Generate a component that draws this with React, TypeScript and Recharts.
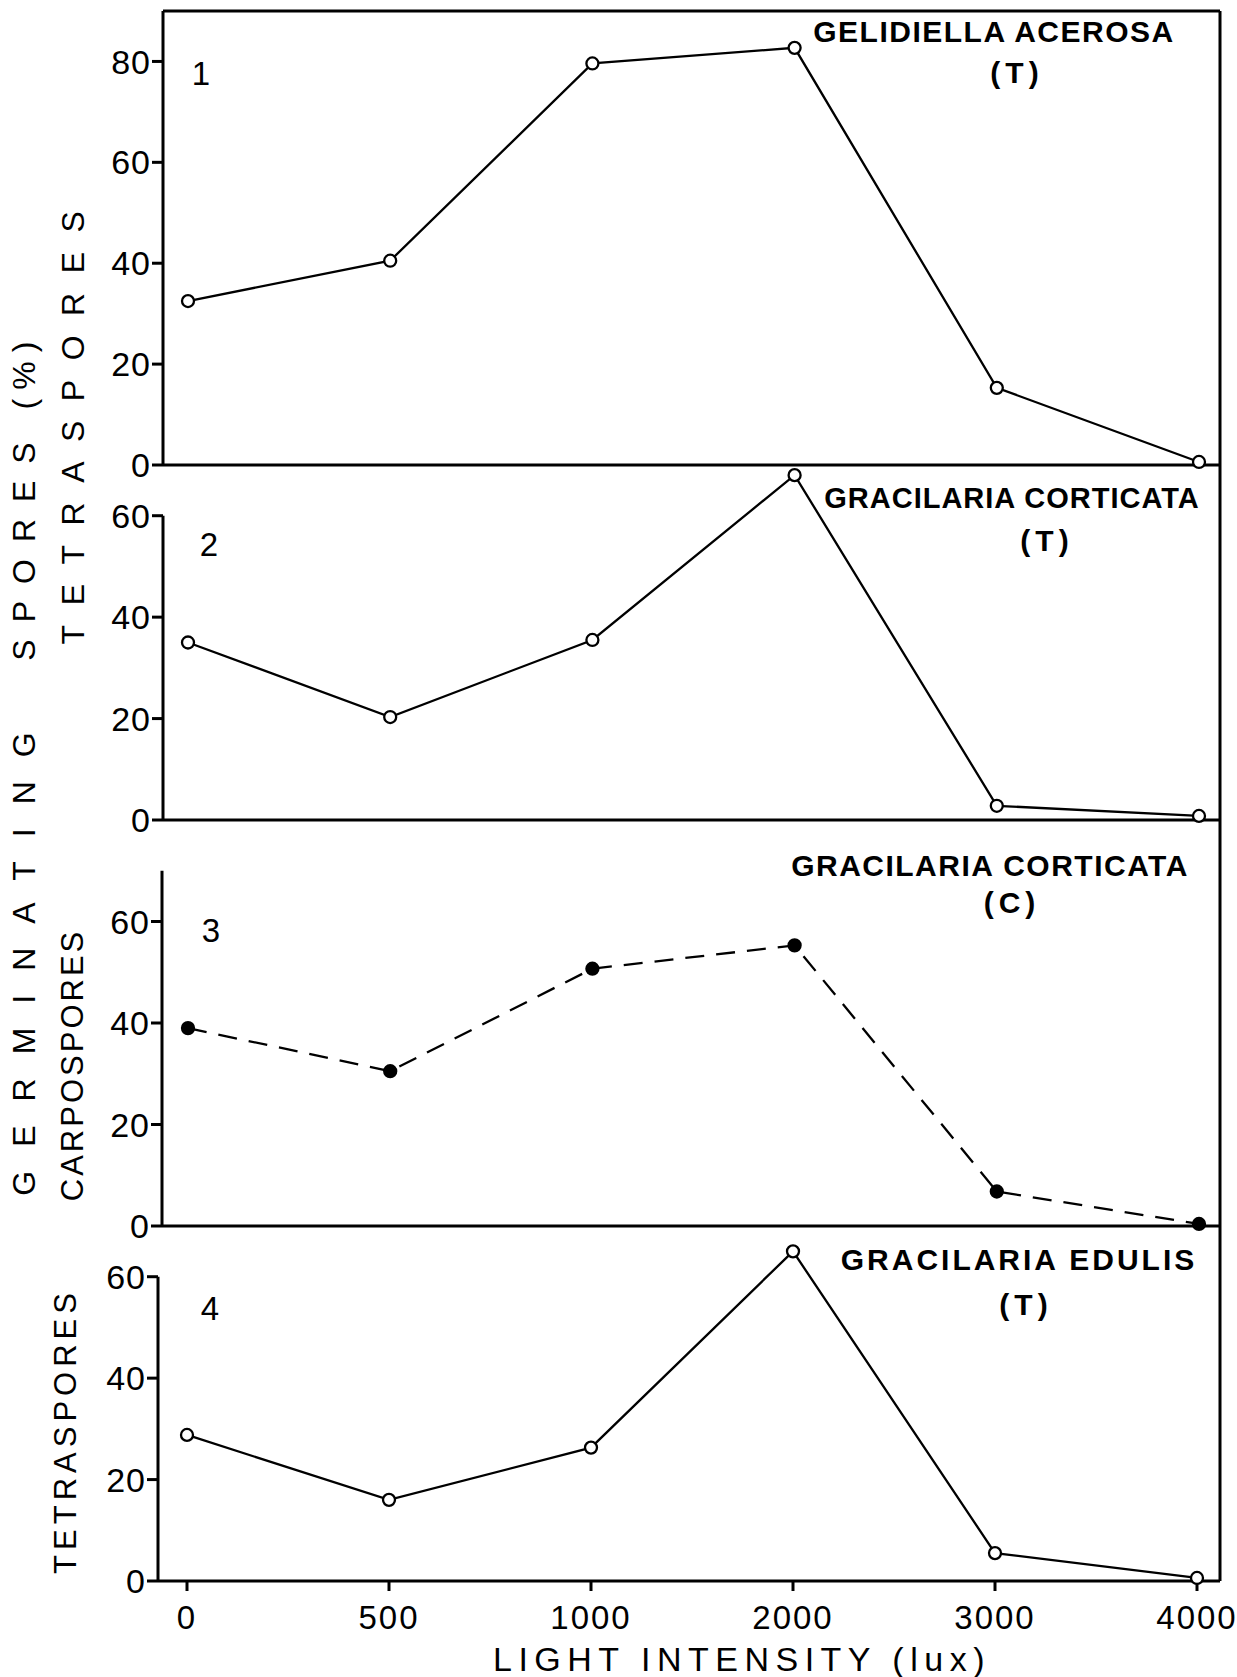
import React from 'react';
import { LineChart, Line, XAxis, YAxis } from 'recharts';

// ---------- data ----------
const lightIntensity = ['0', '500', '1000', '2000', '3000', '4000'];
const gelidiellaTetra = [32.5, 40.5, 79.6, 82.7, 15.3, 0.6];
const corticataTetra = [35, 20.3, 35.5, 68, 2.8, 0.8];
const corticataCarpo = [39, 30.5, 50.7, 55.3, 6.8, 0.4];
const edulisTetra = [28.8, 16, 26.3, 65, 5.5, 0.6];
const yTicksTall = [0, 20, 40, 60, 80];
const yTicksShort = [0, 20, 40, 60];

const PAGE_W = 1237;
const PAGE_H = 1677;
const RIGHT_EDGE = 1220;
const Y_AXIS_W = 70;
const FONT = '"Liberation Sans", Arial, sans-serif';

const panels = [
  { id: 'p1', values: gelidiellaTetra, ticks: yTicksTall, plotTop: 11, plotBottom: 465, yMax: 90, axisTop: 90, axisX: 163, padL: 25, padR: 21, dashed: false, xLabels: false, topBorder: true },
  { id: 'p2', values: corticataTetra, ticks: yTicksShort, plotTop: 465, plotBottom: 820, yMax: 70, axisTop: 60, axisX: 163, padL: 25, padR: 21, dashed: false, xLabels: false, topBorder: false },
  { id: 'p3', values: corticataCarpo, ticks: yTicksShort, plotTop: 820, plotBottom: 1226, yMax: 80, axisTop: 70, axisX: 162, padL: 26, padR: 21, dashed: true, xLabels: false, topBorder: false },
  { id: 'p4', values: edulisTetra, ticks: yTicksShort, plotTop: 1226, plotBottom: 1581, yMax: 70, axisTop: 60, axisX: 158, padL: 29, padR: 23, dashed: false, xLabels: true, topBorder: false },
];

const axisStroke = { stroke: '#000', strokeWidth: 3 };

function Panel({ p }: { p: typeof panels[number] }) {
  const data = lightIntensity.map((c, i) => ({ light: c, value: p.values[i] }));
  const xh = p.xLabels ? 60 : 20;
  const topH = p.topBorder ? 1 : 0;
  const plotH = p.plotBottom - p.plotTop;
  const gap = (plotH * (p.yMax - p.axisTop)) / p.yMax;
  const dash = gap > 0 ? `0 ${gap} ${plotH - gap} 3000` : undefined;
  return (
    <div style={{ position: 'absolute', left: 0, top: 0 }}>
      <LineChart
        width={PAGE_W}
        height={PAGE_H}
        data={data}
        margin={{ top: p.plotTop - topH, right: PAGE_W - RIGHT_EDGE - 1, bottom: PAGE_H - p.plotBottom - xh, left: p.axisX - Y_AXIS_W }}
      >
        <XAxis
          dataKey="light"
          type="category"
          scale="point"
          padding={{ left: p.padL, right: p.padR }}
          height={xh}
          interval={0}
          tickSize={10}
          tickMargin={15}
          axisLine={axisStroke}
          tickLine={axisStroke}
          tick={p.xLabels ? { fill: '#000', fontSize: 33, letterSpacing: 2 } : false}
        />
        {p.topBorder && (
          <XAxis
            xAxisId="top"
            orientation="top"
            dataKey="light"
            type="category"
            scale="point"
            padding={{ left: p.padL, right: p.padR }}
            height={1}
            tick={false}
            tickLine={false}
            axisLine={axisStroke}
          />
        )}
        <YAxis
          yAxisId="left"
          type="number"
          domain={[0, p.yMax]}
          ticks={p.ticks}
          interval={0}
          width={Y_AXIS_W}
          tickSize={11}
          tickMargin={1}
          axisLine={{ ...axisStroke, strokeDasharray: dash }}
          tickLine={axisStroke}
          tick={{ fill: '#000', fontSize: 34, letterSpacing: 1 }}
        />
        <YAxis
          yAxisId="right"
          orientation="right"
          type="number"
          domain={[0, p.yMax]}
          ticks={p.ticks}
          width={1}
          tick={false}
          tickLine={false}
          axisLine={axisStroke}
        />
        <Line
          yAxisId="left"
          type="linear"
          dataKey="value"
          stroke="#000"
          strokeWidth={2.3}
          strokeDasharray={p.dashed ? '19 12' : undefined}
          dot={{ r: 6, fill: p.dashed ? '#000' : '#fff', stroke: '#000', strokeWidth: 2.3, strokeDasharray: 'none' }}
          isAnimationActive={false}
        />
      </LineChart>
    </div>
  );
}

const labelStyle = { fill: '#000', fontFamily: FONT } as const;

function Overlay() {
  return (
    <svg width={PAGE_W} height={PAGE_H} style={{ position: 'absolute', left: 0, top: 0, pointerEvents: 'none' }}>
      {/* panel numbers */}
      <text x={201} y={85} fontSize={33} textAnchor="middle" {...labelStyle}>1</text>
      <text x={209} y={556} fontSize={33} textAnchor="middle" {...labelStyle}>2</text>
      <text x={211} y={942} fontSize={33} textAnchor="middle" {...labelStyle}>3</text>
      <text x={210} y={1320} fontSize={33} textAnchor="middle" {...labelStyle}>4</text>

      {/* species labels */}
      <text x={994} y={42} fontSize={30} fontWeight="bold" letterSpacing={1.5} textAnchor="middle" {...labelStyle}>GELIDIELLA ACEROSA</text>
      <text x={1017} y={83} fontSize={30} fontWeight="bold" letterSpacing={5} textAnchor="middle" {...labelStyle}>(T)</text>
      <text x={1012} y={508} fontSize={29} fontWeight="bold" letterSpacing={1} textAnchor="middle" {...labelStyle}>GRACILARIA CORTICATA</text>
      <text x={1047} y={551} fontSize={30} fontWeight="bold" letterSpacing={5} textAnchor="middle" {...labelStyle}>(T)</text>
      <text x={990} y={876} fontSize={30} fontWeight="bold" letterSpacing={1.5} textAnchor="middle" {...labelStyle}>GRACILARIA CORTICATA</text>
      <text x={1012} y={913} fontSize={30} fontWeight="bold" letterSpacing={5} textAnchor="middle" {...labelStyle}>(C)</text>
      <text x={1019} y={1270} fontSize={30} fontWeight="bold" letterSpacing={3} textAnchor="middle" {...labelStyle}>GRACILARIA EDULIS</text>
      <text x={1026} y={1315} fontSize={30} fontWeight="bold" letterSpacing={5} textAnchor="middle" {...labelStyle}>(T)</text>

      {/* x axis title */}
      <text x={742} y={1671} fontSize={34} letterSpacing={6.5} textAnchor="middle" {...labelStyle}>LIGHT INTENSITY (lux)</text>

      {/* y axis titles (rotated) */}
      <text x={35} y={952} fontSize={32} letterSpacing={24} textAnchor="middle" transform="rotate(-90 35 952)" {...labelStyle}>GERMINATING</text>
      <text x={35} y={543} fontSize={32} letterSpacing={17} textAnchor="middle" transform="rotate(-90 35 543)" {...labelStyle}>SPORES</text>
      <text x={35} y={371} fontSize={32} letterSpacing={9} textAnchor="middle" transform="rotate(-90 35 371)" {...labelStyle}>(%)</text>
      <text x={84} y={418} fontSize={32} letterSpacing={19.5} textAnchor="middle" transform="rotate(-90 84 418)" {...labelStyle}>TETRASPORES</text>
      <text x={83} y={1065} fontSize={31} letterSpacing={3} textAnchor="middle" transform="rotate(-90 83 1065)" {...labelStyle}>CARPOSPORES</text>
      <text x={76} y={1431} fontSize={31} letterSpacing={5} textAnchor="middle" transform="rotate(-90 76 1431)" {...labelStyle}>TETRASPORES</text>
    </svg>
  );
}

export default function App() {
  return (
    <div style={{ position: 'absolute', left: 0, top: 0, width: PAGE_W, height: PAGE_H, background: '#fff', fontFamily: FONT, overflow: 'hidden' }}>
      {panels.map((p) => (
        <Panel key={p.id} p={p} />
      ))}
      <Overlay />
    </div>
  );
}
